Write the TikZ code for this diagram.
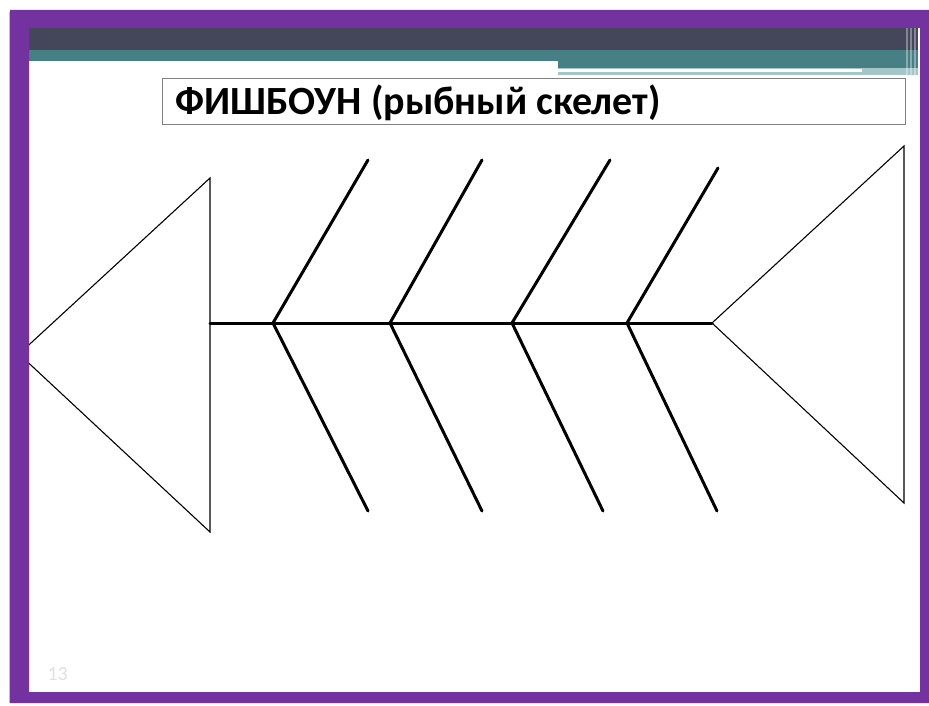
\documentclass[tikz,border=0pt]{standalone}
\usepackage{fontspec}
\setmainfont{Carlito}
\usetikzlibrary{positioning}

\definecolor{framepurple}{RGB}{116,50,160}
\definecolor{bardark}{RGB}{68,70,90}
\definecolor{barteal}{RGB}{70,128,133}
\definecolor{barpale}{RGB}{165,198,200}

\tikzset{
  bone/.style={line width=3pt, line cap=round},
  head/.style={line width=1.1pt},
  titlebox/.style={draw=gray, line width=0.8pt, minimum width=743pt, minimum height=46pt,
    inner sep=0pt, anchor=north west}
}

\begin{document}
\begin{tikzpicture}[x=1pt, y=-1pt]
  \useasboundingbox (0,0) rectangle (929,706);
  \fill[white] (0,0) rectangle (929,706);

  % top bars
  \fill[bardark] (29,28) rectangle (918,50);
  \fill[barteal] (29,50) rectangle (918,61);
  \fill[barteal] (558,61) rectangle (918,68);
  \fill[barpale] (558,68) rectangle (918,75);
  \fill[white] (558,69) rectangle (862,72);
  \foreach \x in {906,910,914} {
    \fill[white, opacity=0.35] (\x,28) rectangle (\x+1.5,80);
  }

  % title
  \node[titlebox] (title) at (162,78) {};
  \node[font=\fontsize{40}{46}\selectfont\bfseries, anchor=base west] (titletext)
    at (172,115) {ФИШБОУН (рыбный скелет)};

  % spine joints and bone ends
  \coordinate (tail) at (210,323);
  \coordinate (mouth) at (712,323);
  \foreach \i/\jx/\ux/\uy/\lx in {1/273/368/160/368, 2/390/482/160/482, 3/512/610/160/603, 4/627/718/168/717} {
    \coordinate (j\i) at (\jx,323);
    \coordinate (u\i) at (\ux,\uy);
    \coordinate (l\i) at (\lx,511);
  }

  % tail and head
  \coordinate (tailtop) at (210,178);
  \coordinate (tailbot) at (210,532);
  \coordinate (tailtip) at (19,354);
  \draw[head] (tailtop) -- (tailtip) -- (tailbot) -- cycle;
  \coordinate (headtop) at (904,146);
  \coordinate (headbot) at (904,503);
  \draw[head] (mouth) -- (headtop) -- (headbot) -- cycle;

  % spine and bones
  \draw[bone] (tail) -- (mouth);
  \foreach \i in {1,...,4} {
    \draw[bone] (j\i) -- (u\i);
    \draw[bone] (j\i) -- (l\i);
  }

  % slide number
  \node[text=black!12, font=\fontsize{20}{24}\selectfont, anchor=base west] (pagenum) at (44,680) {13};

  % frame
  \fill[framepurple, even odd rule] (10,10) rectangle (929,703) (29,28) rectangle (920,692);
  \draw[black!25, line width=1pt] (9,12) -- (9,703);
\end{tikzpicture}
\end{document}
